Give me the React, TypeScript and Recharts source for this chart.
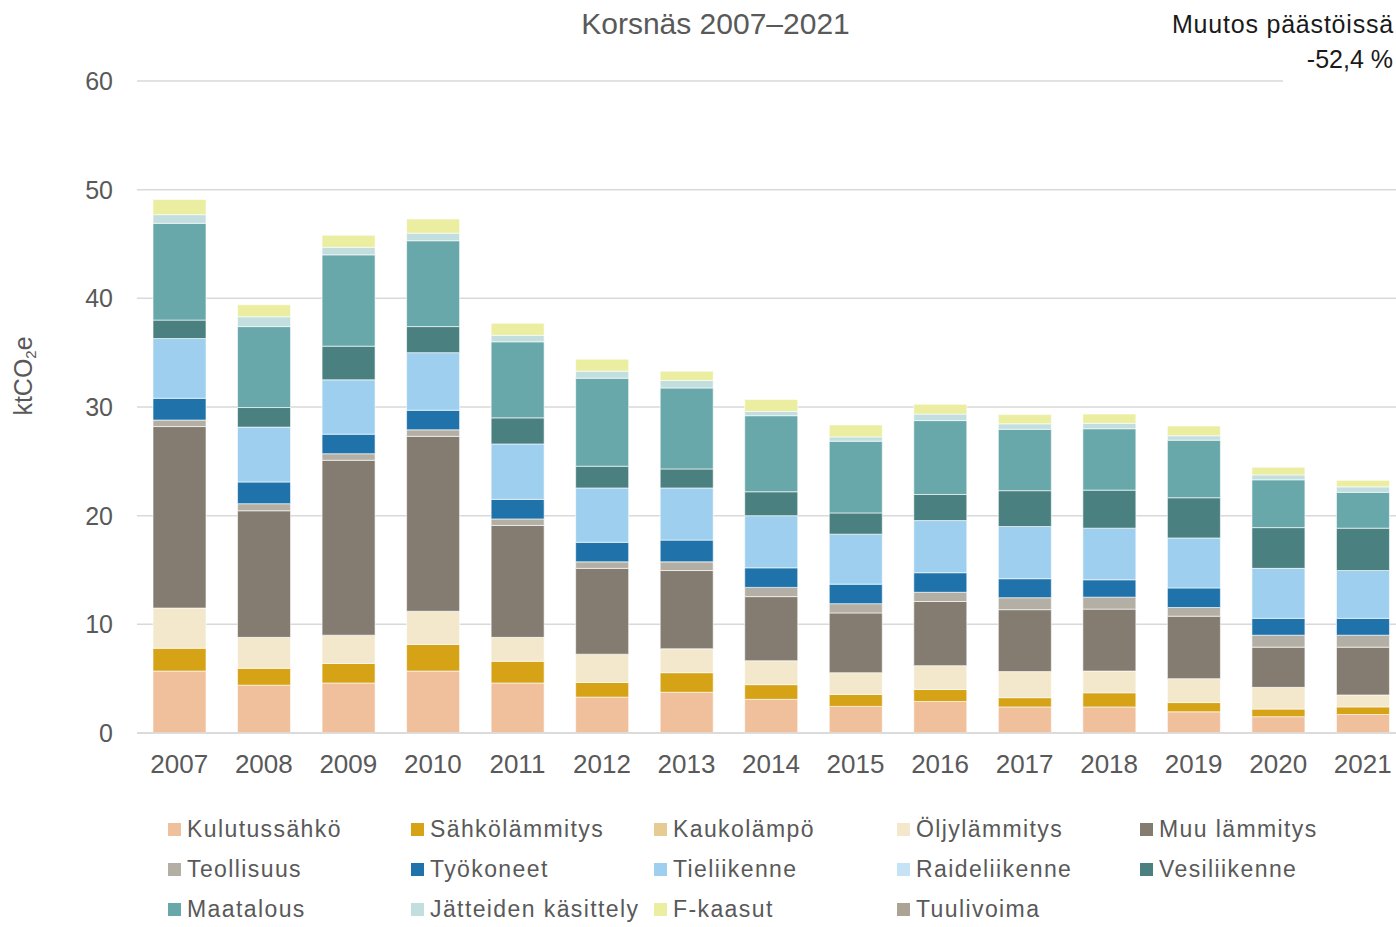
import { BarChart, Bar, XAxis, YAxis, CartesianGrid } from "recharts";

const years = ["2007", "2008", "2009", "2010", "2011", "2012", "2013", "2014", "2015", "2016", "2017", "2018", "2019", "2020", "2021"];

const kulutussahko = [5.7, 4.4, 4.6, 5.7, 4.6, 3.3, 3.75, 3.1, 2.45, 2.9, 2.4, 2.4, 1.95, 1.5, 1.7];
const sahkolammitys = [2.1, 1.55, 1.8, 2.45, 2.0, 1.35, 1.8, 1.35, 1.1, 1.1, 0.85, 1.3, 0.85, 0.7, 0.7];
const kaukolampo = [0, 0, 0, 0, 0, 0, 0, 0, 0, 0, 0, 0, 0, 0, 0];
const oljylammitys = [3.7, 2.85, 2.6, 3.05, 2.2, 2.6, 2.2, 2.2, 2.0, 2.2, 2.4, 2.0, 2.2, 2.0, 1.1];
const muuLammitys = [16.7, 11.65, 16.1, 16.1, 10.3, 7.9, 7.2, 5.9, 5.5, 5.9, 5.7, 5.7, 5.75, 3.7, 4.4];
const teollisuus = [0.6, 0.65, 0.6, 0.6, 0.6, 0.6, 0.8, 0.85, 0.85, 0.85, 1.1, 1.1, 0.8, 1.1, 1.1];
const tyokoneet = [2.0, 2.0, 1.8, 1.8, 1.8, 1.8, 2.0, 1.8, 1.8, 1.8, 1.75, 1.6, 1.8, 1.55, 1.55];
const tieliikenne = [5.5, 5.05, 5.0, 5.3, 5.1, 5.0, 4.8, 4.8, 4.6, 4.8, 4.8, 4.75, 4.6, 4.6, 4.4];
const raideliikenne = [0, 0, 0, 0, 0, 0, 0, 0, 0, 0, 0, 0, 0, 0, 0];
const vesiliikenne = [1.7, 1.8, 3.1, 2.4, 2.4, 2.0, 1.75, 2.2, 1.95, 2.4, 3.3, 3.5, 3.7, 3.75, 3.9];
const maatalous = [8.9, 7.45, 8.4, 7.9, 7.0, 8.1, 7.45, 7.0, 6.6, 6.8, 5.65, 5.65, 5.3, 4.4, 3.3];
const jatteet = [0.8, 0.9, 0.7, 0.7, 0.6, 0.65, 0.7, 0.4, 0.4, 0.6, 0.5, 0.5, 0.4, 0.45, 0.5];
const fKaasut = [1.4, 1.1, 1.1, 1.3, 1.1, 1.1, 0.85, 1.1, 1.1, 0.9, 0.85, 0.85, 0.9, 0.7, 0.6];
const tuulivoima = [0, 0, 0, 0, 0, 0, 0, 0, 0, 0, 0, 0, 0, 0, 0];

const yTicks = [0, 10, 20, 30, 40, 50, 60];

const series = [
  { key: "kulutussahko", name: "Kulutussähkö", color: "#F0BF9B", values: kulutussahko },
  { key: "sahkolammitys", name: "Sähkölämmitys", color: "#D6A316", values: sahkolammitys },
  { key: "kaukolampo", name: "Kaukolämpö", color: "#E6CB93", values: kaukolampo },
  { key: "oljylammitys", name: "Öljylämmitys", color: "#F3E8CC", values: oljylammitys },
  { key: "muuLammitys", name: "Muu lämmitys", color: "#847C70", values: muuLammitys },
  { key: "teollisuus", name: "Teollisuus", color: "#B4AFA5", values: teollisuus },
  { key: "tyokoneet", name: "Työkoneet", color: "#1F73AA", values: tyokoneet },
  { key: "tieliikenne", name: "Tieliikenne", color: "#9FCFEE", values: tieliikenne },
  { key: "raideliikenne", name: "Raideliikenne", color: "#C5E3F5", values: raideliikenne },
  { key: "vesiliikenne", name: "Vesiliikenne", color: "#4A8080", values: vesiliikenne },
  { key: "maatalous", name: "Maatalous", color: "#69A8AA", values: maatalous },
  { key: "jatteet", name: "Jätteiden käsittely", color: "#C3DEDF", values: jatteet },
  { key: "fKaasut", name: "F-kaasut", color: "#EBEDA0", values: fKaasut },
  { key: "tuulivoima", name: "Tuulivoima", color: "#ADA395", values: tuulivoima },
];

const data = years.map((year, i) => {
  const row: Record<string, number | string> = { year };
  series.forEach((s) => {
    row[s.key] = s.values[i];
  });
  return row;
});

const font = "'Liberation Sans', Arial, sans-serif";
const gray = "#595959";

const App = () => (
  <div
    style={{
      position: "absolute",
      left: 0,
      top: 0,
      width: 1396,
      height: 927,
      overflow: "hidden",
      background: "#fff",
      fontFamily: font,
    }}
  >
    <BarChart
      width={1412}
      height={800}
      data={data}
      margin={{ top: 81, right: 7, left: 0, bottom: 17 }}
      barSize={53}
    >
      <CartesianGrid vertical={false} stroke="#d9d9d9" strokeWidth={1.5} />
      <XAxis
        dataKey="year"
        axisLine={{ stroke: "#d9d9d9", strokeWidth: 1.5 }}
        tickLine={false}
        tickMargin={16}
        height={50}
        tick={{ fontSize: 26, fill: gray, fontFamily: font }}
      />
      <YAxis
        domain={[0, 60]}
        ticks={yTicks}
        width={137}
        axisLine={false}
        tickLine={false}
        tickMargin={18}
        tick={{ fontSize: 25, fill: gray, fontFamily: font }}
      />
      {series.map((s) => (
        <Bar
          key={s.key}
          dataKey={s.key}
          name={s.name}
          stackId="a"
          fill={s.color}
          stroke="#ffffff"
          strokeWidth={0.6}
          isAnimationActive={false}
        />
      ))}
    </BarChart>

    <div
      style={{
        position: "absolute",
        left: 0,
        width: 1431,
        textAlign: "center",
        top: 9,
        fontSize: 30,
        lineHeight: "30px",
        color: gray,
      }}
    >
      Korsnäs 2007–2021
    </div>

    <div
      style={{
        position: "absolute",
        left: 1283,
        top: 0,
        width: 120,
        height: 100,
        background: "#fff",
      }}
    />
    <div
      style={{
        position: "absolute",
        right: 2,
        top: 12,
        fontSize: 25,
        lineHeight: "25px",
        color: "#1a1a1a",
        whiteSpace: "nowrap",
        letterSpacing: 0.8,
      }}
    >
      Muutos päästöissä
    </div>
    <div
      style={{
        position: "absolute",
        right: 3,
        top: 47,
        fontSize: 25,
        lineHeight: "25px",
        color: "#1a1a1a",
        whiteSpace: "nowrap",
      }}
    >
      -52,4 %
    </div>

    <div
      style={{
        position: "absolute",
        left: 27,
        top: 376,
        transform: "translate(-50%, -50%) rotate(-90deg)",
        fontSize: 25,
        lineHeight: "25px",
        color: gray,
        whiteSpace: "nowrap",
      }}
    >
      ktCO<sub style={{ fontSize: 15, verticalAlign: "-4px" }}>2</sub>e
    </div>

    <div
      style={{
        position: "absolute",
        left: 168,
        top: 815,
        display: "grid",
        gridTemplateColumns: "243px 243px 243px 243px 243px",
        gridAutoRows: "40px",
      }}
    >
      {series.map((s) => (
        <div
          key={s.key}
          style={{
            display: "flex",
            alignItems: "center",
            height: 28,
            fontSize: 23,
            letterSpacing: 1.4,
            color: gray,
            whiteSpace: "nowrap",
          }}
        >
          <span
            style={{
              display: "inline-block",
              width: 13,
              height: 13,
              background: s.color,
              marginRight: 6,
              flexShrink: 0,
            }}
          />
          {s.name}
        </div>
      ))}
    </div>
  </div>
);

export default App;
